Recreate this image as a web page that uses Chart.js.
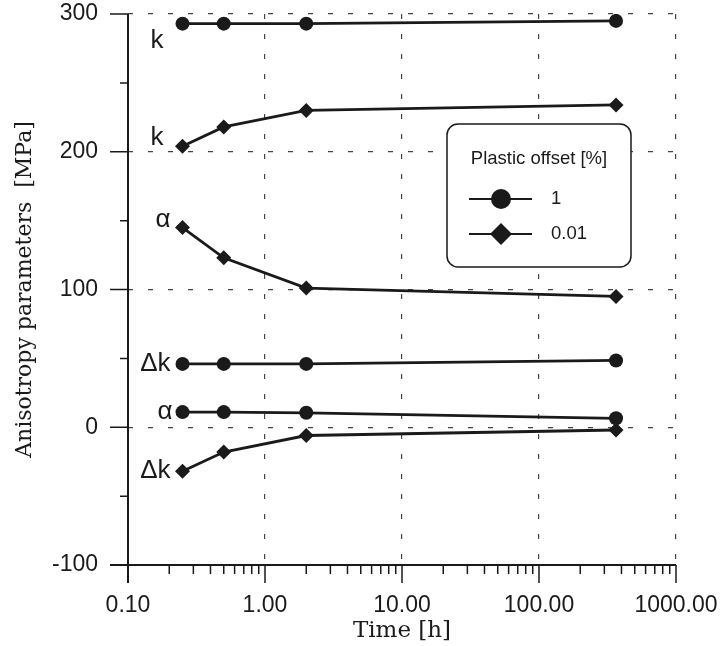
<!DOCTYPE html>
<html>
<head>
<meta charset="utf-8">
<script src="https://cdn.jsdelivr.net/npm/chart.js@4"></script>
<style>
  html, body { margin: 0; padding: 0; background: #fff; }
  #wrap { width: 720px; height: 646px; }
</style>
</head>
<body>
<div id="wrap"><canvas id="params"></canvas></div>
<script>
// ageing time [h]
const times = [0.25, 0.5, 2, 365];

// anisotropy parameters [MPa] at 1 % plastic offset
const k_1 = [293, 293, 293, 295];
const dk_1 = [46, 46, 46, 48.5];
const alpha_1 = [11, 11, 10.5, 6.5];

// ... and at 0.01 % plastic offset
const k_001 = [204, 218, 230, 234];
const alpha_001 = [145, 123, 101, 95];
const dk_001 = [-32, -18, -6, -2];

const xDecades = [0.1, 1, 10, 100, 1000];
const legendTitle = 'Plastic offset [%]';
const offsetNames = ['1', '0.01'];

const ink = '#1a1a1a';
const sans = '"Liberation Sans", Arial, sans-serif';
const serif = '"DejaVu Serif", serif';

const isDecade = v => Math.abs(Math.log10(v) - Math.round(Math.log10(v))) < 1e-9;

// decade ticks plus 2..9 in between
const xTickValues = [];
xDecades.forEach((d, i) => {
    xTickValues.push(d);
    if (i < xDecades.length - 1) {
        for (let m = 2; m <= 9; m++) xTickValues.push(+(d * m).toPrecision(3));
    }
});

function series(values, shape, tag, dx, dy) {
    return {
        label: tag,
        data: times.map((t, i) => ({ x: t, y: values[i] })),
        pointStyle: shape,
        pointRadius: shape === 'circle' ? 7 : 7.5,
        pointBorderWidth: 0,
        borderColor: ink,
        backgroundColor: ink,
        borderWidth: 2.8,
        tension: 0,
        tag: tag, dx: dx, dy: dy,
    };
}

const datasets = [
    series(k_1, 'circle', 'k', -19, 17),
    series(k_001, 'rectRot', 'k', -19, -8),
    series(alpha_001, 'rectRot', 'α', -12, -8),
    series(dk_1, 'circle', 'Δk', -12, 0),
    series(alpha_1, 'circle', 'α', -10, 0),
    series(dk_001, 'rectRot', 'Δk', -12, -1),
];

// labels sticking out past the plot edge shouldn't shrink the plot
function noEdgePadding(axis) {
    axis.paddingTop = 0;
    axis.paddingBottom = 0;
    axis.paddingLeft = 0;
    axis.paddingRight = 0;
}

// k / alpha / delta-k names left of each curve
const tagPlugin = {
    id: 'tags',
    afterDatasetsDraw(chart) {
        const ctx = chart.ctx;
        ctx.save();
        ctx.fillStyle = ink;
        ctx.font = '26px ' + sans;
        ctx.textAlign = 'right';
        ctx.textBaseline = 'middle';
        chart.data.datasets.forEach((ds, i) => {
            const p = chart.getDatasetMeta(i).data[0];
            ctx.fillText(ds.tag, p.x + ds.dx, p.y + ds.dy);
        });
        ctx.restore();
    }
};

// solid axes with long ticks at decades / hundreds, short ones between
const axisPlugin = {
    id: 'axes',
    afterDatasetsDraw(chart) {
        const { ctx, chartArea: a, scales: { x, y } } = chart;
        ctx.save();
        ctx.strokeStyle = ink;
        ctx.lineWidth = 2;
        ctx.beginPath();
        ctx.moveTo(a.left, a.top);
        ctx.lineTo(a.left, a.bottom + 18);
        ctx.moveTo(a.left - 18, a.bottom);
        ctx.lineTo(a.right, a.bottom);
        ctx.stroke();
        ctx.lineWidth = 1.5;
        ctx.beginPath();
        y.ticks.forEach(t => {
            const py = y.getPixelForValue(t.value);
            const len = t.value % 100 === 0 ? 18 : 8;
            ctx.moveTo(a.left - len, py);
            ctx.lineTo(a.left, py);
        });
        x.ticks.forEach(t => {
            const px = x.getPixelForValue(t.value);
            const len = isDecade(t.value) ? 18 : 9;
            ctx.moveTo(px, a.bottom);
            ctx.lineTo(px, a.bottom + len);
        });
        ctx.stroke();
        ctx.restore();
    }
};

function drawMarker(ctx, shape, cx, cy, r) {
    ctx.beginPath();
    if (shape === 'circle') {
        ctx.arc(cx, cy, r, 0, Math.PI * 2);
    } else {
        ctx.moveTo(cx, cy - r);
        ctx.lineTo(cx + r, cy);
        ctx.lineTo(cx, cy + r);
        ctx.lineTo(cx - r, cy);
        ctx.closePath();
    }
    ctx.fill();
}

// boxed key with the two marker shapes
const keyPlugin = {
    id: 'key',
    afterDraw(chart) {
        const ctx = chart.ctx;
        const bx = 447, by = 124, bw = 184, bh = 143;
        ctx.save();
        ctx.fillStyle = '#fff';
        ctx.strokeStyle = ink;
        ctx.lineWidth = 1.5;
        ctx.beginPath();
        ctx.roundRect(bx, by, bw, bh, 11);
        ctx.fill();
        ctx.stroke();

        ctx.fillStyle = ink;
        ctx.font = '18.5px ' + sans;
        ctx.textAlign = 'center';
        ctx.textBaseline = 'middle';
        ctx.fillText(legendTitle, bx + bw / 2, by + 35);

        const shapes = ['circle', 'rectRot'];
        offsetNames.forEach((name, i) => {
            const ry = by + 75 + i * 35;
            ctx.lineWidth = 2;
            ctx.beginPath();
            ctx.moveTo(bx + 22, ry);
            ctx.lineTo(bx + 85, ry);
            ctx.stroke();
            drawMarker(ctx, shapes[i], bx + 54, ry, i === 0 ? 10 : 11);
            ctx.textAlign = 'left';
            ctx.fillText(name, bx + 104, ry);
        });
        ctx.restore();
    }
};

new Chart(document.getElementById('params'), {
    type: 'line',
    data: { datasets: datasets },
    options: {
        responsive: true,
        maintainAspectRatio: false,
        animation: false,
        events: [],
        layout: { padding: { top: 14, right: 44, left: 0, bottom: 0 } },
        plugins: { legend: { display: false }, tooltip: { enabled: false } },
        scales: {
            x: {
                type: 'logarithmic',
                min: 0.1,
                max: 1000,
                afterBuildTicks: axis => { axis.ticks = xTickValues.map(v => ({ value: v })); },
                afterFit: axis => { axis.height = 81; noEdgePadding(axis); },
                ticks: {
                    autoSkip: false,
                    maxRotation: 0,
                    padding: 27,
                    color: ink,
                    font: { family: sans, size: 23 },
                    callback: v => isDecade(v) ? Number(v).toFixed(2) : '',
                },
                grid: {
                    drawTicks: false,
                    lineWidth: 1.2,
                    color: c => (c.tick && isDecade(c.tick.value) && c.tick.value > 0.11) ? '#444' : 'rgba(0,0,0,0)',
                },
                border: { display: false, dash: [5, 15] },
                title: {
                    display: true,
                    text: 'Time [h]',
                    color: ink,
                    font: { family: serif, size: 23 },
                    padding: { top: 0, bottom: 1 },
                },
            },
            y: {
                min: -100,
                max: 300,
                afterFit: axis => { axis.width = 128; noEdgePadding(axis); },
                ticks: {
                    stepSize: 50,
                    autoSkip: false,
                    padding: 30,
                    color: ink,
                    font: { family: sans, size: 23 },
                    callback: v => v % 100 === 0 ? String(v) : '',
                },
                grid: {
                    drawTicks: false,
                    lineWidth: 1.2,
                    color: c => (c.tick && c.tick.value % 100 === 0 && c.tick.value > -100) ? '#444' : 'rgba(0,0,0,0)',
                },
                border: { display: false, dash: [5, 15] },
                title: {
                    display: true,
                    text: 'Anisotropy parameters  [MPa]',
                    color: ink,
                    font: { family: serif, size: 22 },
                    padding: { top: 12, bottom: 0 },
                },
            },
        },
    },
    plugins: [tagPlugin, axisPlugin, keyPlugin],
});
</script>
</body>
</html>
